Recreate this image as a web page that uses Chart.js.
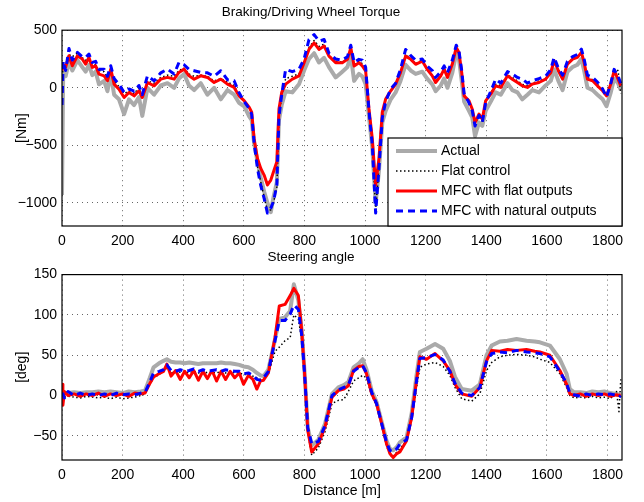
<!DOCTYPE html>
<html>
<head>
<meta charset="utf-8">
<script src="https://cdn.jsdelivr.net/npm/chart.js@4.4.1/dist/chart.umd.min.js"></script>
<style>
  html, body { margin: 0; padding: 0; background: #fff; }
  #wrap { position: relative; width: 644px; height: 502px; overflow: hidden; }
  #torqueChart { position: absolute; left: 0; top: 0; }
  #steerChart { position: absolute; left: 0; top: 249px; }
</style>
</head>
<body>
<div id="wrap">
  <canvas id="torqueChart" width="644" height="249"></canvas>
  <canvas id="steerChart" width="644" height="253"></canvas>
</div>
<script>
// 위쪽 그래프: 거리 [m]
const torqueDist = [0, 4, 12, 23, 34, 51, 67, 78, 89, 100, 111, 122, 139, 150, 161, 172, 188, 205, 221, 238,
  254, 265, 282, 304, 326, 348, 370, 386, 403, 419, 436, 458, 480, 502, 524, 546, 568, 584, 601, 618,
  626, 634, 645, 656, 667, 678, 689, 698, 709, 716, 725, 738, 760, 782, 799, 815, 832, 848, 865, 881,
  903, 925, 942, 953, 964, 980, 991, 1002, 1013, 1024, 1035, 1046, 1057, 1068, 1085, 1101, 1117, 1134, 1151, 1167,
  1189, 1205, 1222, 1233, 1250, 1261, 1272, 1288, 1301, 1310, 1319, 1327, 1343, 1354, 1363, 1376, 1387, 1398, 1415, 1431,
  1448, 1470, 1486, 1503, 1519, 1536, 1552, 1574, 1596, 1613, 1624, 1638, 1652, 1668, 1685, 1701, 1714, 1723, 1734, 1751,
  1767, 1784, 1797, 1811, 1822, 1835, 1844];

// 토크 [Nm] - 실측값
const torqueActual = [-930, 150, 100, 230, 150, 240, 180, 140, 200, 110, 140, 30, 60, -30, 120, -60, -100, -229, -100, -150,
  -80, -244, 0, -60, 20, 40, 0, 80, 120, 20, -20, 40, -60, 0, -100, -20, -60, -130, -160, -250,
  -280, -480, -640, -780, -900, -1000, -1080, -950, -820, -280, -150, -30, -40, 30, 150, 250, 300, 220, 260, 180,
  90, 140, 180, 280, 60, 120, 100, 30, -250, -520, -1000, -720, -300, -200, -100, -40, 60, 200, 150, 120,
  140, 80, 30, -30, 20, 80, 0, 130, 300, 250, 60, -120, -200, -260, -420, -300, -330, -200, -120, -40,
  -60, 40, -20, -40, -100, -60, -20, -40, 20, 60, 160, 60, -20, 140, 180, 200, 250, 150, 0, -20,
  -60, -100, -160, -40, 80, 40, -20];
// 평탄 제어
const torqueFlatCtrl = [100, 180, 200, 290, 270, 300, 260, 240, 250, 210, 200, 150, 140, 90, 150, 60, 10, -50, -30, -50,
  0, -70, 60, 40, 90, 110, 100, 150, 170, 120, 100, 110, 100, 60, 80, 50, 20, -60, -110, -175,
  -220, -470, -680, -820, -950, -1070, -1060, -1000, -860, -260, -70, 80, 100, 120, 230, 350, 410, 360, 380, 280,
  230, 225, 250, 340, 200, 230, 210, 160, -190, -480, -1060, -690, -250, -110, -20, 30, 140, 290, 250, 210,
  240, 170, 110, 60, 110, 170, 100, 210, 340, 300, 140, -60, -120, -190, -320, -240, -290, -120, -40, 30,
  20, 110, 90, 60, 30, 20, 40, 60, 80, 140, 240, 150, 90, 210, 250, 270, 310, 230, 90, 70,
  30, -20, -70, 30, 150, 150, -50];
// MFC (flat outputs)
const torqueMfcFlat = [150, 200, 180, 278, 191, 278, 249, 206, 264, 177, 191, 119, 104, 61, 162, 32, -12, -84, -41, -70,
  -26, -84, 46, 17, 75, 90, 75, 133, 162, 104, 75, 104, 90, 46, 75, 32, 3, -70, -112, -170,
  -212, -442, -614, -700, -758, -844, -801, -729, -643, -184, -40, 32, 75, 103, 218, 333, 390, 333, 362, 275,
  218, 218, 247, 347, 189, 218, 189, 146, -184, -442, -844, -614, -212, -98, -26, 32, 132, 275, 247, 204,
  232, 161, 104, 46, 104, 162, 90, 206, 351, 307, 133, -70, -113, -186, -302, -229, -273, -113, -55, 17,
  3, 104, 75, 46, 17, 3, 32, 46, 75, 133, 235, 148, 75, 206, 249, 264, 307, 220, 75, 61,
  17, -26, -70, 32, 148, 75, 17];
// MFC (natural outputs)
const torqueMfcNat = [-150, 230, 150, 342, 240, 307, 270, 264, 293, 220, 230, 160, 162, 100, 191, 80, 30, -40, -10, -30,
  20, -60, 104, 60, 130, 162, 120, 220, 200, 160, 148, 133, 130, 100, 148, 70, 61, -40, -120, -180,
  -230, -480, -700, -850, -960, -1088, -1045, -987, -844, -250, -60, 161, 140, 160, 250, 419, 462, 404, 419, 300,
  250, 240, 270, 370, 220, 247, 240, 180, -200, -500, -1088, -700, -260, -120, -10, 40, 160, 333, 280, 240,
  250, 190, 150, 90, 140, 190, 130, 240, 370, 320, 150, -50, -130, -200, -331, -240, -300, -130, -30, 75,
  40, 140, 120, 90, 75, 40, 60, 80, 100, 160, 264, 170, 110, 230, 270, 290, 336, 250, 110, 90,
  50, -10, -80, 40, 160, 100, 40];

// 아래쪽 그래프: 거리 [m]
const steerDist = [0, 3, 8, 20, 40, 60, 80, 100, 120, 140, 160, 180, 200, 220, 240, 260, 274, 290, 302, 320,
  335, 346, 360, 375, 390, 405, 420, 435, 450, 465, 480, 495, 510, 525, 540, 555, 570, 585, 599, 615,
  630, 643, 655, 665, 681, 703, 717, 736, 753, 765, 780, 791, 800, 811, 824, 846, 868, 891, 912, 930,
  945, 962, 980, 992, 1005, 1022, 1038, 1055, 1071, 1082, 1093, 1105, 1115, 1137, 1154, 1170, 1181, 1203, 1231, 1258,
  1280, 1297, 1319, 1352, 1379, 1401, 1418, 1445, 1470, 1500, 1533, 1560, 1577, 1610, 1643, 1665, 1676, 1690, 1710, 1730,
  1750, 1770, 1790, 1810, 1830, 1838, 1844];

// 조향각 [deg]
const steerActual = [2, 0, 3, 3, 4, 3, 4, 4, 5, 4, 5, 4, 3, 5, 4, 5, 6, 22, 35, 40,
  43, 45, 42, 41, 41, 40, 41, 40, 39, 40, 40, 40, 40, 41, 40, 40, 39, 38, 36, 35,
  32, 28, 25, 24, 32, 70, 95, 97, 105, 138, 118, 80, 32, -40, -62, -55, -35, 2, 10, 13,
  17, 35, 40, 45, 32, 6, -8, -33, -56, -66, -68, -64, -58, -52, -22, 25, 54, 58, 64, 58,
  43, 23, 8, 6, 14, 50, 62, 67, 68, 70, 68, 67, 66, 62, 45, 27, 8, 4, 4, 3,
  5, 4, 5, 3, 2, 1, 0];
const steerFlatCtrl = [-2, 0, -2, -1, -2, -3, -1, -2, -3, -2, -4, -2, -4, -3, -2, 0, 2, 14, 22, 26,
  30, 34, 28, 30, 29, 30, 28, 30, 28, 30, 28, 29, 28, 30, 28, 29, 28, 28, 26, 26,
  24, 22, 20, 20, 27, 55, 60, 68, 72, 100, 95, 70, 28, -45, -74, -65, -45, -10, -6, -5,
  5, 18, 22, 25, 22, 0, -12, -35, -62, -74, -76, -70, -66, -56, -30, 10, 35, 39, 41, 36,
  25, 10, -4, -7, 2, 31, 41, 48, 50, 51, 50, 48, 45, 41, 27, 10, 0, -3, -2, -3,
  -1, -3, -2, -4, 5, -20, 20];
const steerMfcFlat = [14, -12, 5, 0, 2, -1, 2, 0, 3, -1, 2, 0, 2, -1, 3, 2, 3, 15, 23, 27,
  30, 39, 24, 31, 20, 30, 22, 31, 19, 30, 21, 31, 18, 30, 20, 30, 22, 28, 14, 25,
  20, 8, 18, 19, 28, 72, 111, 113, 124, 133, 124, 81, 31, -43, -70, -60, -39, -2, 6, 8,
  12, 31, 36, 37, 27, 2, -10, -35, -60, -72, -77, -72, -70, -56, -27, 19, 48, 45, 52, 43,
  31, 14, 2, -1, 10, 43, 56, 55, 57, 56, 57, 55, 54, 50, 31, 14, 2, 0, 2, -1,
  2, 0, 2, -1, 1, 0, 1];
const steerMfcNat = [0, 2, -3, 5, 0, 3, 0, 2, 0, 2, 0, 3, 1, 2, 1, 3, 4, 17, 28, 30,
  32, 38, 31, 30, 32, 30, 31, 33, 30, 32, 30, 31, 32, 30, 32, 31, 30, 30, 27, 28,
  25, 20, 19, 22, 30, 68, 93, 93, 101, 112, 107, 75, 30, -40, -60, -57, -37, 0, 7, 10,
  13, 30, 35, 37, 28, 4, -10, -35, -58, -68, -70, -66, -60, -55, -27, 18, 46, 47, 51, 44,
  30, 15, 3, 0, 10, 42, 52, 54, 53, 56, 54, 53, 52, 48, 30, 15, 3, 1, -1, 2,
  0, 2, 1, 2, 0, -2, 0];

// 눈금 라벨
const torqueTicks = [-1000, -500, 0, 500];
const steerTicks = [-50, 0, 50, 100, 150];
const distTicks = [0, 200, 400, 600, 800, 1000, 1200, 1400, 1600, 1800];

const seriesNames = ['Actual', 'Flat control', 'MFC with flat outputs', 'MFC with natural outputs'];

Chart.defaults.font.family = "'Liberation Sans', Arial, sans-serif";
Chart.defaults.color = '#000';

function toPoints(xs, ys) {   // {x, y} 쌍으로 묶어주는 장치
  return xs.map((x, i) => ({ x: x, y: ys[i] }));
}

function tickText(v) {   // 쉼표 없이, 마이너스는 긴 기호로
  return String(v).replace('-', '\u2212');
}

function makeDatasets(xs, actual, flatCtrl, mfcFlat, mfcNat) {
  return [
    { label: seriesNames[0], data: toPoints(xs, actual), borderColor: 'rgb(170,170,170)', borderWidth: 4, order: 4 },
    { label: seriesNames[1], data: toPoints(xs, flatCtrl), borderColor: '#000', borderWidth: 1.5, borderDash: [1.5, 2.5], order: 3 },
    { label: seriesNames[2], data: toPoints(xs, mfcFlat), borderColor: 'rgb(255,0,0)', borderWidth: 3, order: 2 },
    { label: seriesNames[3], data: toPoints(xs, mfcNat), borderColor: 'rgb(0,0,255)', borderWidth: 3, borderDash: [7, 5], order: 1 }
  ];
}

// 테두리 + 안쪽 범례 그리는 플러그인
const frameLegend = {
  id: 'frameLegend',
  afterDraw(chart, args, opts) {
    const { ctx, chartArea } = chart;
    ctx.save();
    ctx.strokeStyle = '#000';
    ctx.lineWidth = 1.2;
    ctx.setLineDash([]);
    ctx.strokeRect(chartArea.left, chartArea.top, chartArea.right - chartArea.left, chartArea.bottom - chartArea.top);

    if (opts.legend) {
      const w = 234, h = 88;
      const x0 = chartArea.right - w, y0 = chartArea.bottom - h;
      ctx.fillStyle = '#fff';
      ctx.fillRect(x0, y0, w, h);
      ctx.strokeRect(x0, y0, w, h);
      ctx.font = "14px 'Liberation Sans', Arial, sans-serif";
      ctx.textBaseline = 'middle';
      chart.data.datasets.forEach((ds, i) => {
        const y = y0 + 13 + i * 20;
        ctx.beginPath();
        ctx.setLineDash(ds.borderDash || []);
        ctx.strokeStyle = ds.borderColor;
        ctx.lineWidth = ds.borderWidth;
        ctx.moveTo(x0 + 8, y);
        ctx.lineTo(x0 + 49, y);
        ctx.stroke();
        ctx.setLineDash([]);
        ctx.fillStyle = '#000';
        ctx.fillText(ds.label, x0 + 53, y);
      });
    }
    ctx.restore();
  }
};

function makeChart(canvasId, cfg) {
  const gridOpts = { color: 'rgba(0,0,0,0.6)', lineWidth: 1, drawTicks: false };
  return new Chart(document.getElementById(canvasId).getContext('2d'), {
    type: 'line',
    data: { datasets: cfg.datasets },
    plugins: [frameLegend],
    options: {
      responsive: false,
      animation: false,
      layout: { padding: { left: 0, right: 22, top: 0, bottom: 0 } },
      elements: { point: { radius: 0 }, line: { tension: 0, borderJoinStyle: 'round' } },
      plugins: {
        legend: { display: false },
        tooltip: { enabled: false },
        title: {
          display: true, text: cfg.title, color: '#000',
          font: { size: 13.5, weight: 'normal' }, padding: cfg.titlePad
        },
        frameLegend: { legend: cfg.legend }
      },
      scales: {
        x: {
          type: 'linear', min: 0, max: 1848,
          grid: gridOpts, border: { display: false, dash: [1, 4] },
          afterFit: (scale) => { scale.height = cfg.xHeight; },
          afterBuildTicks: (scale) => { scale.ticks = distTicks.map(v => ({ value: v })); },
          ticks: { padding: 7, font: { size: 14 }, maxRotation: 0, autoSkip: false, callback: tickText },
          title: cfg.xTitle ? { display: true, text: cfg.xTitle, font: { size: 14 }, padding: { top: 0, bottom: 2 } } : { display: false }
        },
        y: {
          min: cfg.yMin, max: cfg.yMax,
          grid: gridOpts, border: { display: false, dash: [1, 4] },
          afterFit: (scale) => { scale.width = 62; },
          afterBuildTicks: (scale) => { scale.ticks = cfg.yTicks.map(v => ({ value: v })); },
          ticks: { padding: 5, font: { size: 14 }, autoSkip: false, callback: tickText },
          title: { display: true, text: cfg.yTitle, font: { size: 14 }, padding: { top: 14, bottom: 0 } }
        }
      }
    }
  });
}

makeChart('torqueChart', {
  datasets: makeDatasets(torqueDist, torqueActual, torqueFlatCtrl, torqueMfcFlat, torqueMfcNat),
  title: 'Braking/Driving Wheel Torque',
  titlePad: { top: 4, bottom: 10 },
  legend: true,
  xHeight: 23,
  yMin: -1200, yMax: 500, yTicks: torqueTicks, yTitle: '[Nm]'
});

makeChart('steerChart', {
  datasets: makeDatasets(steerDist, steerActual, steerFlatCtrl, steerMfcFlat, steerMfcNat),
  title: 'Steering angle',
  titlePad: { top: 0, bottom: 9.4 },
  legend: false,
  xHeight: 42, xTitle: 'Distance [m]',
  yMin: -80, yMax: 150, yTicks: steerTicks, yTitle: '[deg]'
});
</script>
</body>
</html>
